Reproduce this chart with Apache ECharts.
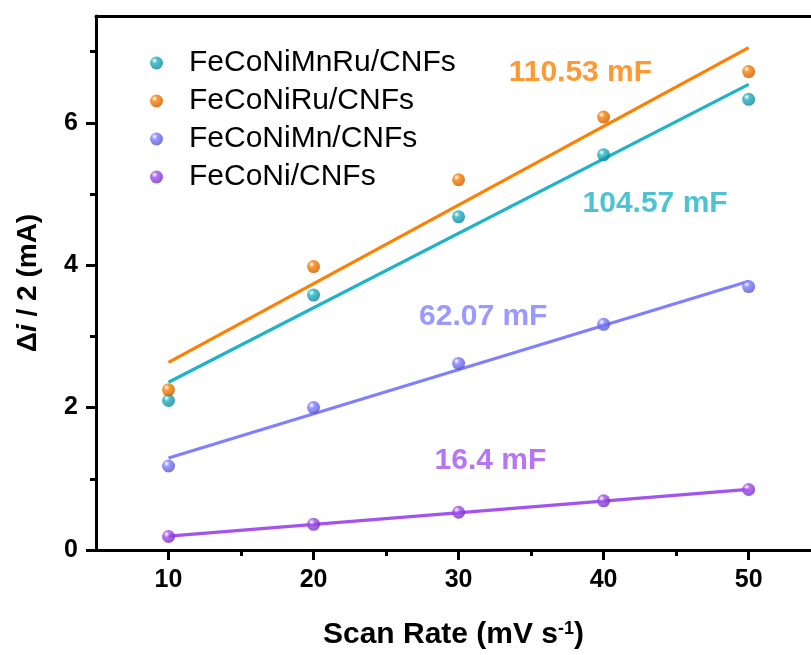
<!DOCTYPE html>
<html>
<head>
<meta charset="utf-8">
<script src="https://cdn.jsdelivr.net/npm/echarts@6/dist/echarts.min.js"></script>
<style>
  html, body { margin: 0; padding: 0; background: #ffffff; }
  #chart { width: 811px; height: 655px; }
</style>
</head>
<body>
<div id="chart"></div>
<script>
// Scan rates (mV s^-1)
const scanRates = [10, 20, 30, 40, 50];

// Half of the current difference, Δi/2 (mA), per sample
const sampleNames = ['FeCoNiMnRu/CNFs', 'FeCoNiRu/CNFs', 'FeCoNiMn/CNFs', 'FeCoNi/CNFs'];
const feCoNiMnRu = [2.10, 3.58, 4.68, 5.55, 6.33];
const feCoNiRu   = [2.25, 3.98, 5.20, 6.08, 6.72];
const feCoNiMn   = [1.18, 2.00, 2.62, 3.17, 3.70];
const feCoNi     = [0.19, 0.36, 0.53, 0.69, 0.85];

// Double-layer capacitance from the linear fits (mF = slope in mA per mV s^-1 x 1000)
const capacitance = [104.57, 110.53, 62.07, 16.4];
// Fit intercepts (mA)
const intercepts = [1.311, 1.530, 0.672, 0.032];

// Axis tick values
const xLabelTicks = [10, 20, 30, 40, 50];
const xMinorTicks = [15, 25, 35, 45];
const yLabelTicks = [0, 2, 4, 6];
const yMinorTicks = [1, 3, 5, 7];

const colors = ['#1fb3c8', '#ff8000', '#8080ff', '#a452f0'];
const darker = ['#0f7f90', '#c05a00', '#5050c8', '#7028b8'];
const seriesValues = [feCoNiMnRu, feCoNiRu, feCoNiMn, feCoNi];

// Where each capacitance annotation sits, in data coordinates
const annotationAnchor = [[43.55, 4.87], [38.4, 6.71], [31.7, 3.27], [32.2, 1.26]];

const X_MIN = 5, X_MAX = 54.3, Y_MIN = 0, Y_MAX = 7.5;

function ball(i) {
  return {
    type: 'radial', x: 0.35, y: 0.32, r: 0.75,
    colorStops: [
      { offset: 0, color: '#ffffff' },
      { offset: 0.3, color: colors[i] },
      { offset: 1, color: darker[i] }
    ]
  };
}

const series = [];
// fitted lines first so the points sit on top
seriesValues.forEach((vals, i) => {
  const slope = capacitance[i] / 1000;
  const x0 = scanRates[0], x1 = scanRates[scanRates.length - 1];
  series.push({
    type: 'line',
    name: 'fit-' + i,
    data: [[x0, intercepts[i] + slope * x0], [x1, intercepts[i] + slope * x1]],
    showSymbol: false,
    symbol: 'none',
    lineStyle: { color: colors[i], width: 3.2 },
    silent: true,
    z: 2
  });
});
seriesValues.forEach((vals, i) => {
  series.push({
    type: 'scatter',
    name: sampleNames[i],
    data: scanRates.map((x, k) => [x, vals[k]]),
    symbol: 'circle',
    symbolSize: 13,
    itemStyle: { color: ball(i) },
    z: 3
  });
});
// capacitance annotations
capacitance.forEach((c, i) => {
  series.push({
    type: 'scatter',
    name: 'label-' + i,
    data: [annotationAnchor[i]],
    symbolSize: 0,
    silent: true,
    label: {
      show: true,
      position: 'inside',
      formatter: c + ' mF',
      color: colors[i],
      fontFamily: 'Liberation Sans',
      fontWeight: 'bold',
      fontSize: 30
    },
    z: 4
  });
});

const axisFont = { fontFamily: 'Liberation Sans', fontWeight: 'bold', fontSize: 25, color: '#000' };

const option = {
  backgroundColor: '#ffffff',
  animation: false,
  grid: { left: 96, top: 16, right: 0, height: 534 },
  legend: {
    data: sampleNames,
    orient: 'vertical',
    left: 145, top: 43,
    itemWidth: 13, itemHeight: 13,
    itemGap: 8,
    icon: 'circle',
    textStyle: {
      fontFamily: 'Liberation Sans', fontSize: 30, color: '#000',
      padding: [0, 0, 0, 21]
    }
  },
  xAxis: [{
    type: 'value', min: X_MIN, max: X_MAX,
    axisLine: { lineStyle: { color: '#000', width: 3 } },
    axisTick: { customValues: xLabelTicks, length: 10, lineStyle: { width: 3, color: '#000' } },
    axisLabel: Object.assign({ customValues: xLabelTicks, margin: 18 }, axisFont),
    splitLine: { show: false },
    name: '{t|Scan Rate (mV s}{s|-1}{t|)}',
    nameLocation: 'middle',
    nameGap: 70,
    nameTextStyle: {
      rich: {
        t: { fontFamily: 'Liberation Sans', fontWeight: 'bold', fontSize: 30, color: '#000' },
        s: { fontFamily: 'Liberation Sans', fontWeight: 'bold', fontSize: 18, color: '#000', verticalAlign: 'top' }
      }
    }
  }, {
    type: 'value', min: X_MIN, max: X_MAX, gridIndex: 0, position: 'bottom',
    axisLine: { show: false },
    axisTick: { customValues: xMinorTicks, length: 6, lineStyle: { width: 3, color: '#000' } },
    axisLabel: { show: false },
    splitLine: { show: false }
  }, {
    // top frame edge
    type: 'value', min: X_MIN, max: X_MAX, gridIndex: 0, position: 'top',
    axisLine: { lineStyle: { color: '#000', width: 3 } },
    axisTick: { show: false },
    axisLabel: { show: false },
    splitLine: { show: false }
  }],
  yAxis: [{
    type: 'value', min: Y_MIN, max: Y_MAX,
    axisLine: { lineStyle: { color: '#000', width: 3 } },
    axisTick: { customValues: yLabelTicks, length: 10, lineStyle: { width: 3, color: '#000' } },
    axisLabel: Object.assign({ customValues: yLabelTicks, margin: 18 }, axisFont),
    splitLine: { show: false },
    name: '{t|Δ}{i|i}{t| / 2 (mA)}',
    nameLocation: 'middle',
    nameRotate: 90,
    nameGap: 54,
    nameTextStyle: {
      rich: {
        t: { fontFamily: 'Liberation Sans', fontWeight: 'bold', fontSize: 28, color: '#000' },
        i: { fontFamily: 'Liberation Sans', fontWeight: 'bold', fontStyle: 'italic', fontSize: 28, color: '#000' }
      }
    }
  }, {
    type: 'value', min: Y_MIN, max: Y_MAX, gridIndex: 0, position: 'left',
    axisLine: { show: false },
    axisTick: { customValues: yMinorTicks, length: 6, lineStyle: { width: 3, color: '#000' } },
    axisLabel: { show: false },
    splitLine: { show: false }
  }],
  series: series
};

const chart = echarts.init(document.getElementById('chart'), null, { renderer: 'canvas' });
chart.setOption(option);
</script>
</body>
</html>
